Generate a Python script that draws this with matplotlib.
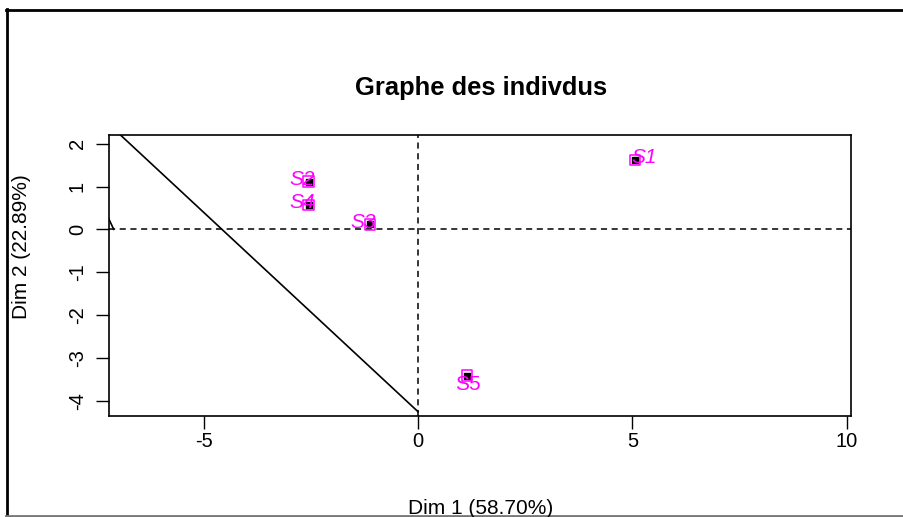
import numpy as np
import matplotlib.pyplot as plt
from matplotlib.lines import Line2D

plt.rcParams['font.family'] = ['Liberation Sans', 'DejaVu Sans']

# individuals (PCA coordinates)
names = ['S1', 'S2', 'S3', 'S4', 'S5']
dim1 = [5.06, -2.55, -1.12, -2.55, 1.14]
dim2 = [1.62, 1.11, 0.12, 0.57, -3.42]
italic = [True, True, True, True, False]
# label offsets in pixels (dx, dy)
offs = [(9, 2), (-7, 2), (-7, 2), (-7, 2), (1, -9)]

# stray line segments drawn on the plot
seg1_x = [-6.95, 0.0]
seg1_y = [2.21, -4.26]
seg2_x = [-7.25, -7.1]
seg2_y = [0.32, 0.0]

xticks = [-5, 0, 5, 10]
yticks = [-4, -3, -2, -1, 0, 1, 2]

W, H = 904, 517
fig = plt.figure(figsize=(W / 100, H / 100), dpi=100)
ax = fig.add_axes([109 / W, 1 - 416 / H, (851 - 109) / W, (416 - 134.7) / H])

ax.axhline(0, color='black', ls=(0, (4, 3)), lw=1.1)
ax.axvline(0, color='black', ls=(0, (4, 3)), lw=1.1)
ax.plot(seg1_x, seg1_y, color='black', lw=1.2)
ax.plot(seg2_x, seg2_y, color='black', lw=1.2)

ax.scatter(dim1, dim2, marker='s', s=22, color='black', zorder=3)
ax.scatter(dim1, dim2, marker='s', s=60, facecolor='none', edgecolor='#ff00ff',
           lw=1.1, zorder=4)
for n, x, y, it, (dx, dy) in zip(names, dim1, dim2, italic, offs):
    ax.annotate(n, (x, y), xytext=(dx * 0.72, dy * 0.72), textcoords='offset points',
                ha='center', va='center', color='#ff00ff', fontsize=15,
                style='italic' if it else 'normal', zorder=5)

ax.set_xlim(-7.21, 10.1)
ax.set_ylim(-4.36, 2.21)
ax.set_xticks(xticks)
ax.set_yticks(yticks)
ax.set_xticklabels([str(t) for t in xticks])
ax.set_yticklabels([str(t) for t in yticks], rotation=90, va='center')
ax.tick_params(direction='out', length=9.4, width=1, labelsize=14.5)
ax.tick_params(axis='x', pad=2)
ax.tick_params(axis='y', pad=6.5)
for s in ax.spines.values():
    s.set_linewidth(1.2)

fig.text(481 / W, 1 - 88 / H, 'Graphe des indivdus', ha='center', va='center',
         fontsize=18.4, fontweight='bold')
fig.text(481 / W, 1 - 509 / H, 'Dim 1 (58.70%)', ha='center', va='center', fontsize=15)
fig.text(22 / W, 1 - 247 / H, 'Dim 2 (22.89%)', ha='center', va='center', fontsize=15,
         rotation=90)

# outer window frame
fig.add_artist(Line2D([7 / W, 7 / W], [1 - 9 / H, 1 - 515 / H], transform=fig.transFigure,
                      color='black', lw=2))
fig.add_artist(Line2D([6 / W, 1], [1 - 9.5 / H, 1 - 9.5 / H], transform=fig.transFigure,
                      color='black', lw=2))
fig.add_artist(Line2D([6 / W, 1], [1 - 515.5 / H, 1 - 515.5 / H], transform=fig.transFigure,
                      color='#777777', lw=2))

fig.savefig('out.png', dpi=100)
